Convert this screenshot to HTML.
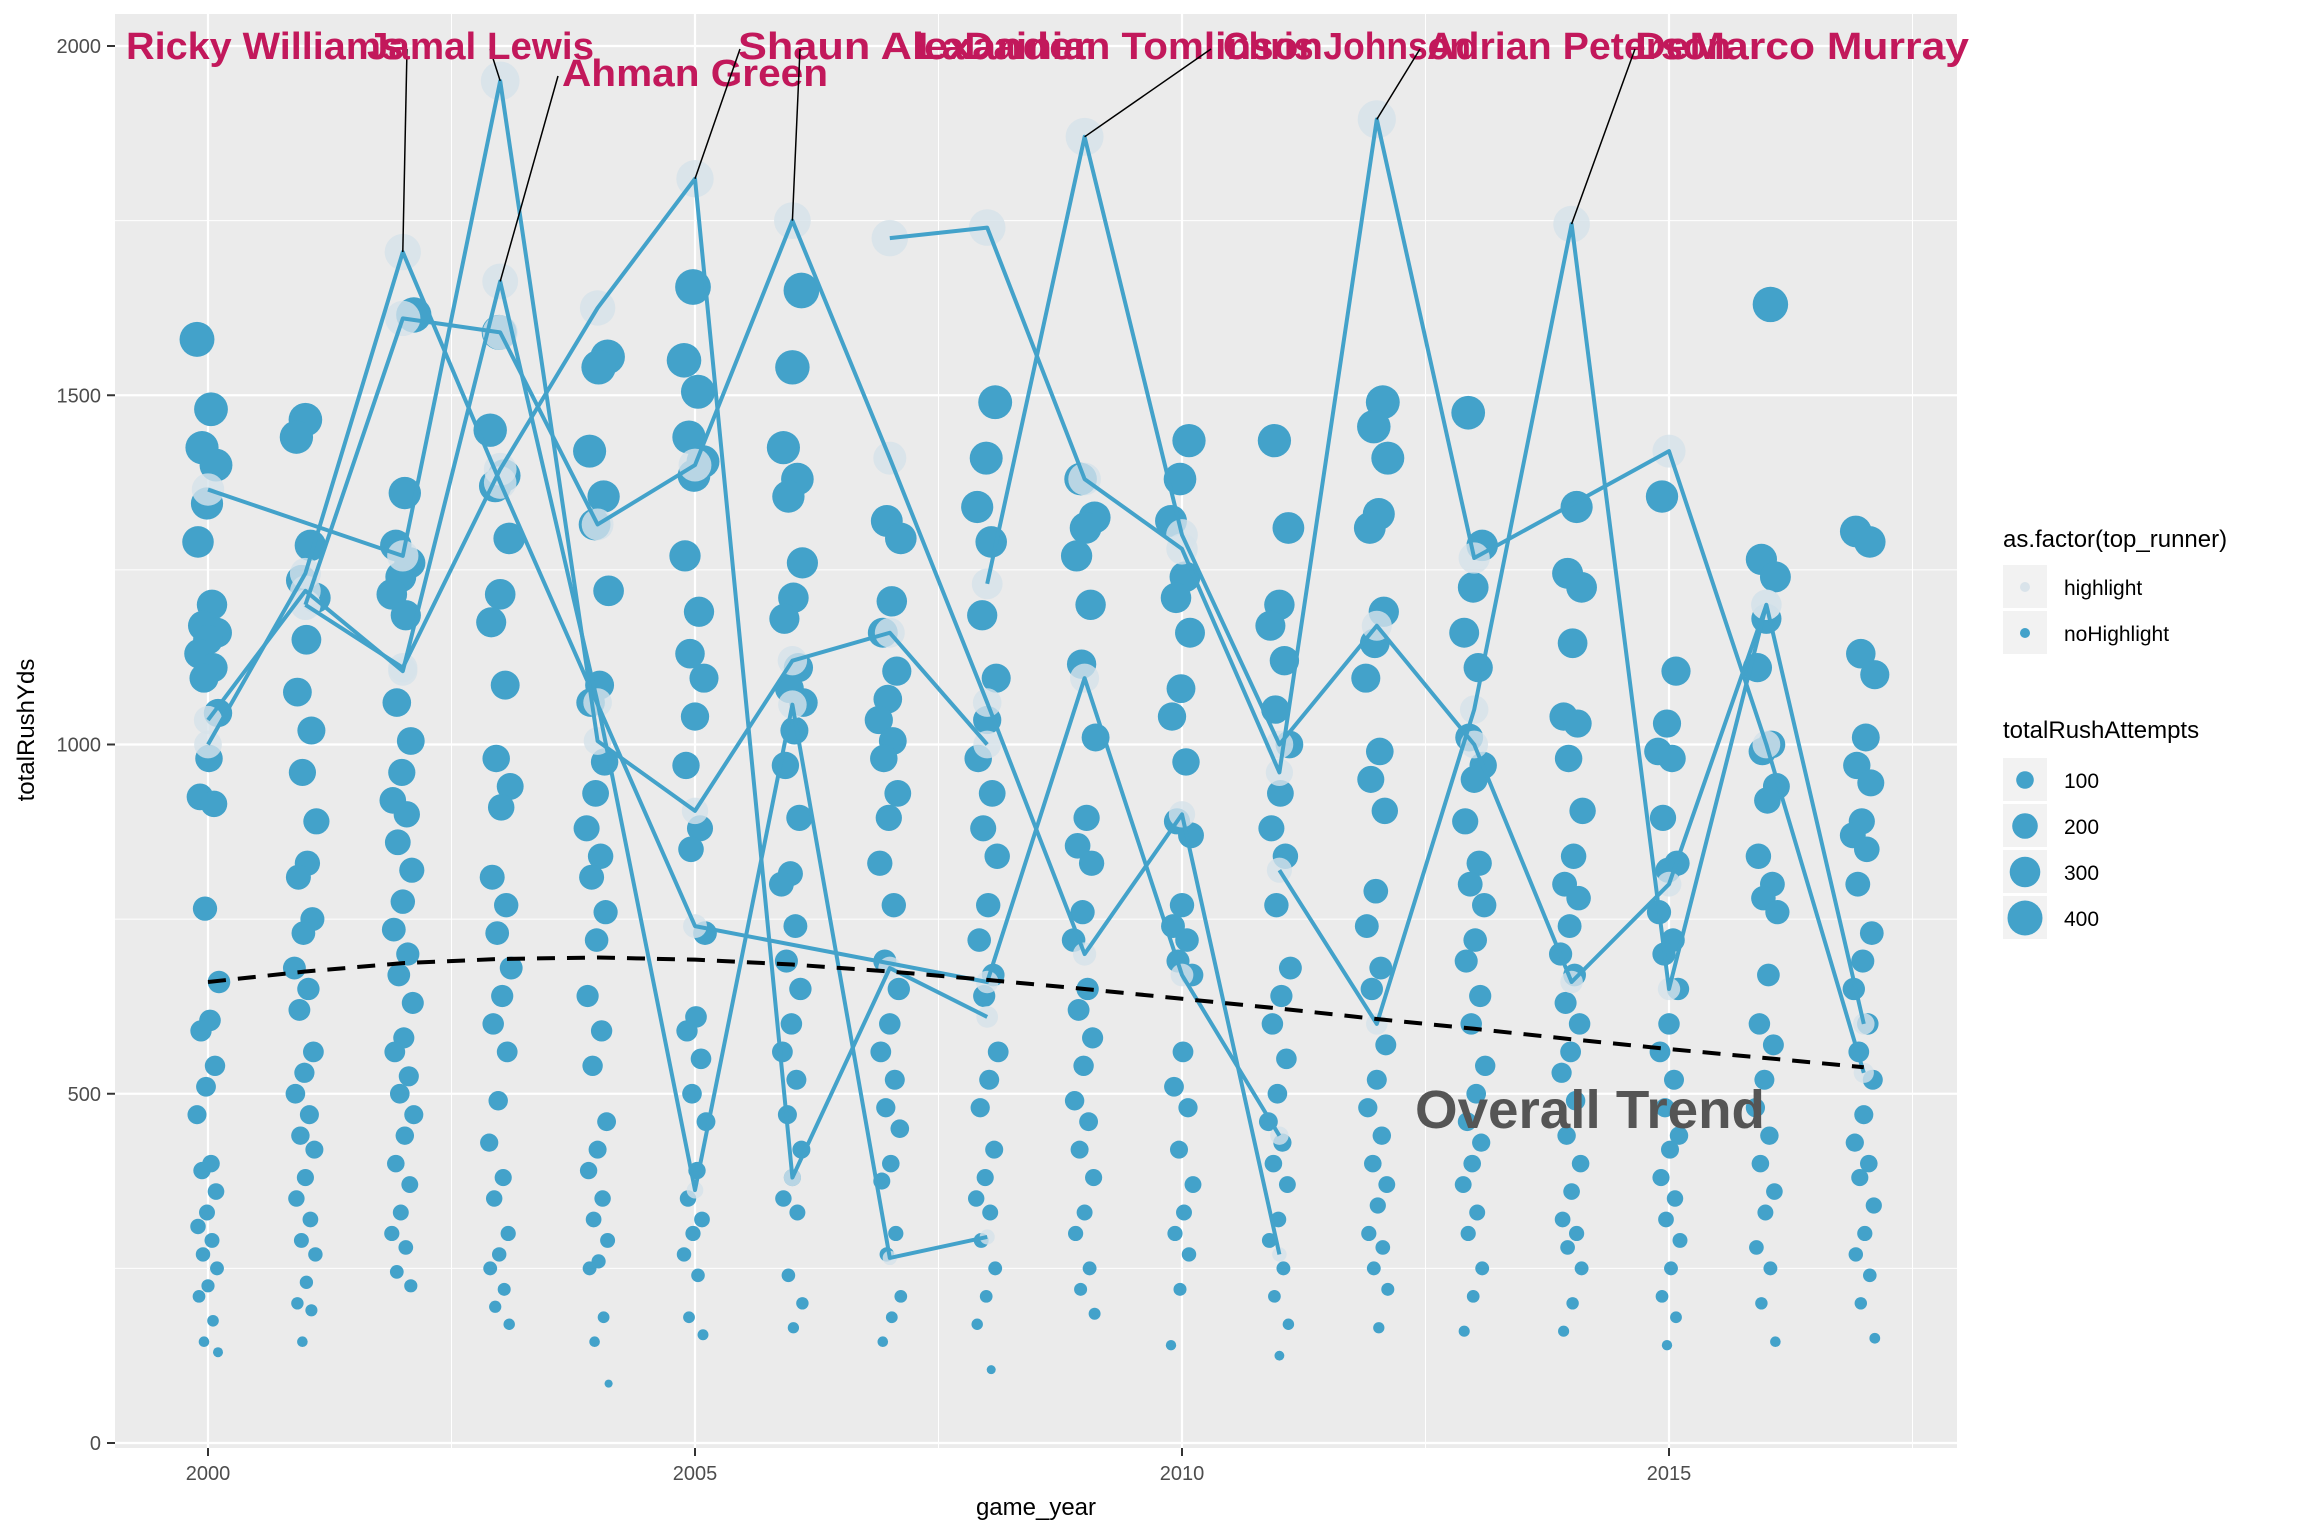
<!DOCTYPE html>
<html><head><meta charset="utf-8"><style>
body{margin:0;background:#fff}
svg{display:block;font-family:"Liberation Sans",sans-serif}
</style></head><body>
<svg id="chart" width="2304" height="1536" viewBox="0 0 2304 1536">
<g id="grid"></g><g id="pts"></g><g id="hl"></g><g id="lines"></g><g id="trend"></g><g id="labels"></g><g id="axes"></g>
<g id="legend">
<text x="2003" y="547" font-size="24" fill="#000">as.factor(top_runner)</text>
<rect x="2003" y="565" width="44" height="43" fill="#f2f2f2"/>
<circle cx="2025" cy="587" r="5" fill="#d9e3ea"/>
<text x="2064" y="595" font-size="21" fill="#000">highlight</text>
<rect x="2003" y="611" width="44" height="43" fill="#f2f2f2"/>
<circle cx="2025" cy="633" r="5" fill="#43a2ca"/>
<text x="2064" y="641" font-size="21" fill="#000">noHighlight</text>
<text x="2003" y="738" font-size="24" fill="#000">totalRushAttempts</text>
<rect x="2003" y="758" width="44" height="43" fill="#f2f2f2"/>
<circle cx="2025" cy="780" r="8.8" fill="#43a2ca"/>
<text x="2064" y="788" font-size="21">100</text>
<rect x="2003" y="804" width="44" height="43" fill="#f2f2f2"/>
<circle cx="2025" cy="826" r="12.8" fill="#43a2ca"/>
<text x="2064" y="834" font-size="21">200</text>
<rect x="2003" y="850" width="44" height="43" fill="#f2f2f2"/>
<circle cx="2025" cy="872" r="15.3" fill="#43a2ca"/>
<text x="2064" y="880" font-size="21">300</text>
<rect x="2003" y="896" width="44" height="43" fill="#f2f2f2"/>
<circle cx="2025" cy="918" r="17.5" fill="#43a2ca"/>
<text x="2064" y="926" font-size="21">400</text>
</g>
</svg>
<script>
const years=[2000,2001,2002,2003,2004,2005,2006,2007,2008,2009,2010,2011,2012,2013,2014,2015,2016,2017];
const ptsByYear=[
[1580,1480,1425,1400,1345,1290,1200,1170,1160,1150,1130,1110,1095,1045,980,925,915,765,660,605,590,540,510,470,400,390,360,330,310,290,270,250,225,210,175,145,130],
[1465,1440,1285,1235,1210,1150,1075,1020,960,890,830,810,750,730,680,650,620,560,530,500,470,440,420,380,350,320,290,270,230,200,190,145],
[1615,1360,1285,1260,1240,1215,1185,1060,1005,960,920,900,860,820,775,735,700,670,630,580,560,525,500,470,440,400,370,330,300,280,245,225],
[1590,1450,1385,1370,1295,1215,1175,1085,980,940,910,810,770,730,680,640,600,560,490,430,380,350,300,270,250,220,195,170],
[1555,1540,1420,1355,1315,1220,1085,1060,975,930,880,840,810,760,720,640,590,540,460,420,390,350,320,290,260,250,180,145,85],
[1655,1550,1505,1440,1405,1385,1270,1190,1130,1095,1040,970,880,850,730,610,590,550,500,460,390,350,320,300,270,240,180,155],
[1650,1540,1425,1380,1355,1260,1210,1180,1110,1080,1060,1020,970,895,815,800,740,690,650,600,560,520,470,420,380,350,330,240,200,165],
[1320,1295,1205,1160,1105,1065,1035,1005,980,930,895,830,770,690,650,600,560,520,480,450,400,375,300,270,210,180,145],
[1490,1410,1340,1290,1185,1095,1035,980,930,880,840,770,720,670,640,560,520,480,420,380,350,330,290,250,210,170,105],
[1380,1325,1310,1270,1200,1115,1010,895,855,830,760,720,650,620,580,540,490,460,420,380,330,300,250,220,185],
[1435,1380,1320,1240,1210,1160,1080,1040,975,890,870,770,740,720,690,670,560,510,480,420,370,330,300,270,220,140],
[1435,1310,1200,1170,1120,1050,1000,930,880,840,770,680,640,600,550,500,460,430,400,370,320,290,250,210,170,125],
[1490,1455,1410,1330,1310,1190,1145,1095,990,950,905,790,740,680,650,570,520,480,440,400,370,340,300,280,250,220,165],
[1475,1285,1225,1160,1110,1010,970,950,890,830,800,770,720,690,640,600,540,500,460,430,400,370,330,300,250,210,160],
[1340,1245,1225,1145,1040,1030,980,905,840,800,780,740,700,670,630,600,560,530,490,440,400,360,320,300,280,250,200,160],
[1355,1105,1030,990,980,895,830,820,760,720,700,650,600,560,520,480,440,420,380,350,320,290,250,210,180,140],
[1630,1265,1240,1180,1110,1000,990,940,920,840,800,780,760,670,600,570,520,480,440,400,360,330,280,250,200,145],
[1305,1290,1130,1100,1010,970,945,890,870,850,800,730,690,650,600,560,520,470,430,400,380,340,300,270,240,200,150]];
const trendVals=[660,675,687,693,695,692,685,675,663,650,636,622,607,593,578,564,551,538];
const runners=["Ricky Williams","Jamal Lewis","Ahman Green","Shaun Alexander","LaDainian Tomlinson","Chris Johnson","Adrian Peterson","DeMarco Murray"];
const runnerYears=[[2000,2001,2002,2003,2005,2008,2009,2010,2011],[2000,2002,2003,2004,2005,2006,2007,2008],[2000,2001,2002,2003,2004,2005,2006,2007,2008],[2001,2002,2003,2004,2005,2006,2007,2008],[2001,2002,2003,2004,2005,2006,2007,2008,2009,2010,2011],[2008,2009,2010,2011,2012,2013,2014,2015,2016],[2007,2008,2009,2010,2011,2012,2013,2015,2016,2017],[2011,2012,2013,2014,2015,2016,2017]];
const runnerYds=[[1000,1245,1705,1375,740,660,1095,670,440],[1365,1270,1950,1005,905,1120,1160,1000],[1035,1220,1105,1663,1060,362,1057,265,295],[1200,1110,1394,1625,1810,380,680,610],[1200,1610,1590,1315,1400,1750,1410,1060,700,900,270],[1230,1870,1300,1000,1170,1000,660,800,1200],[1725,1740,1380,1280,960,1895,1267,1420,1000,530],[820,600,1050,1745,650,1200,600]];
const yTicks=[0,500,1000,1500,2000];
const xTicks=[2000,2005,2010,2015];
const labelX=[126,367,562,738,917,1223,1427,1635];
const labelY=[59,59,86,59,59,59,59,59];
const labelW=[277,227,266,352,406,248,304,334];
const anchorX=[407,490,558,740,800,1211,1420,1635];
const NS="http://www.w3.org/2000/svg";
const L=115,R=1957,T=14,B=1448;
const xs=y=>208+(y-2000)*97.4;
const ys=v=>1443-v*0.6985;
const rad=v=>Math.sqrt(Math.max(v/4.2,20))*0.9;
function mk(p,t,a){const e=document.createElementNS(NS,t);for(const k in a)e.setAttribute(k,a[k]);document.getElementById(p).appendChild(e);return e;}
let bg=mk('grid','rect',{x:L,y:T,width:R-L,height:B-T,fill:'#ebebeb'});


for(let v=250;v<2100;v+=500){let g=mk('grid','line',{x1:L,x2:R,y1:ys(v),y2:ys(v),stroke:'#fff','stroke-width':1});

}
[2002.5,2007.5,2012.5,2017.5].forEach(v=>{let g=mk('grid','line',{x1:xs(v),x2:xs(v),y1:T,y2:B,stroke:'#fff','stroke-width':1});

});
yTicks.forEach(v=>{let g=mk('grid','line',{x1:L,x2:R,y1:ys(v),y2:ys(v),stroke:'#fff','stroke-width':2.2});


let t=mk('axes','line',{x1:107,x2:115,y1:ys(v),y2:ys(v),stroke:'#333','stroke-width':2});


let tx=mk('axes','text',{x:101,y:ys(v)+7,'text-anchor':'end','font-size':20,fill:'#4d4d4d'});tx.textContent=v;

});
xTicks.forEach(v=>{let g=mk('grid','line',{x1:xs(v),x2:xs(v),y1:T,y2:B,stroke:'#fff','stroke-width':2.2});


let t=mk('axes','line',{x1:xs(v),x2:xs(v),y1:B,y2:B+8,stroke:'#333','stroke-width':2});


let tx=mk('axes','text',{x:xs(v),y:B+32,'text-anchor':'middle','font-size':20,fill:'#4d4d4d'});tx.textContent=v;

});
let xt=mk('axes','text',{x:1036,y:1515,'text-anchor':'middle','font-size':24});xt.textContent='game_year';


let yt=mk('axes','text',{x:0,y:0,'text-anchor':'middle','font-size':24,transform:'translate(34,730) rotate(-90)'});yt.textContent='totalRushYds';


years.forEach((yr,yi)=>{ptsByYear[yi].forEach((v,i)=>{const j=((i*37+yi*11)%23)-11;
let c=mk('pts','circle',{cx:xs(yr)+j,cy:ys(v),r:rad(v),fill:'#43a2ca'});

});});
runners.forEach((n,k)=>{const d=runnerYears[k].map((y,i)=>(i?'L':'M')+xs(y)+','+ys(runnerYds[k][i])).join('');
let p=mk('lines','path',{d:d,fill:'none',stroke:'#43a2ca','stroke-width':4,'stroke-linejoin':'round'});


runnerYears[k].forEach((y,i)=>{let c=mk('hl','circle',{cx:xs(y),cy:ys(runnerYds[k][i]),r:rad(runnerYds[k][i]),fill:'#d6e2ea','fill-opacity':0.8});

});
let pi=runnerYds[k].indexOf(Math.max(...runnerYds[k]));
let ll=mk('labels','line',{x1:anchorX[k],y1:labelY[k]-10,x2:xs(runnerYears[k][pi]),y2:ys(runnerYds[k][pi]),stroke:'#000','stroke-width':1.5});


let t=mk('labels','text',{x:labelX[k],y:labelY[k],'font-size':38,'font-weight':'bold',fill:'#c2185b',textLength:labelW[k],lengthAdjust:'spacingAndGlyphs'});t.textContent=n;

});
let tp=mk('trend','path',{d:years.map((y,i)=>(i?'L':'M')+xs(y)+','+ys(trendVals[i])).join(''),fill:'none',stroke:'#000','stroke-width':4,'stroke-dasharray':'18,12'});


let tt=mk('trend','text',{x:1415,y:1128,'font-size':54,'font-weight':'bold',fill:'#555',textLength:350,lengthAdjust:'spacingAndGlyphs'});tt.textContent='Overall Trend';


</script>
</body></html>
